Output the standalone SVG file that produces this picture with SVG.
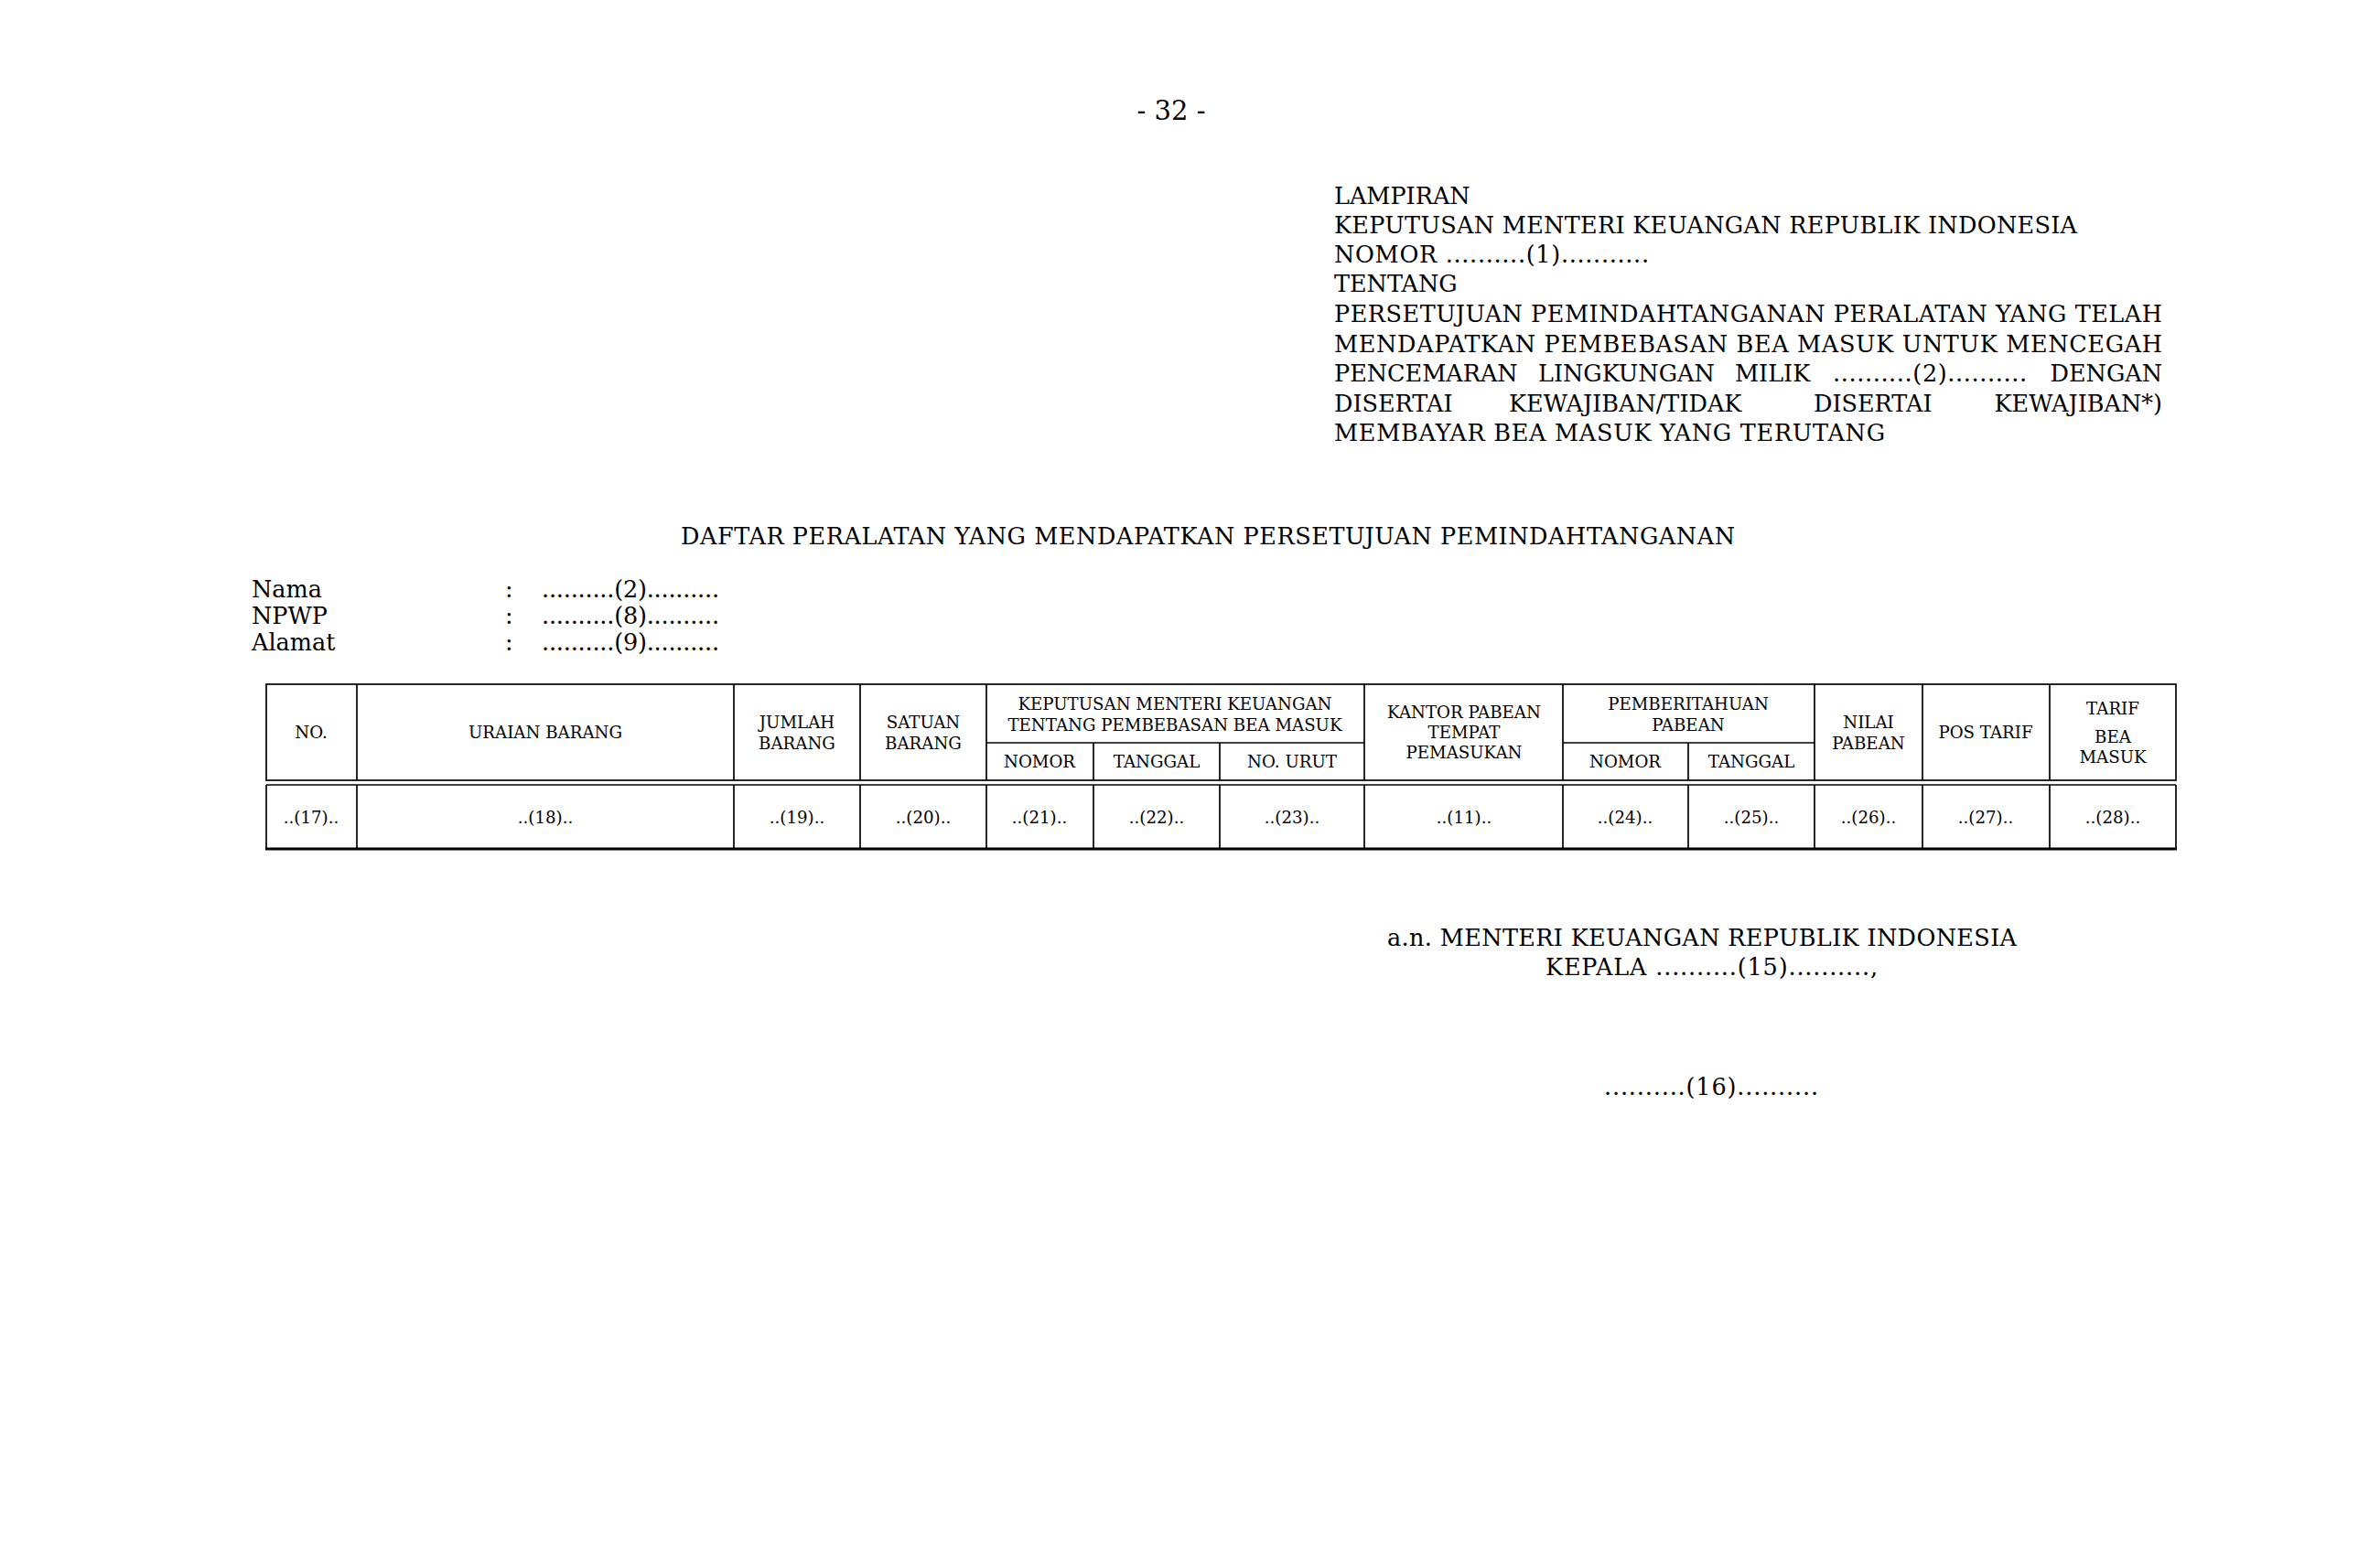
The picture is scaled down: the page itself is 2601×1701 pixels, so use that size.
<svg xmlns="http://www.w3.org/2000/svg" width="2601" height="1701" viewBox="0 0 2601 1701">
<style>
text{font-family:"DejaVu Serif","Liberation Serif",serif;fill:#000}
.b{font-size:25.5px}
.p{font-size:29px}
.t{font-size:18.2px}
.c{text-anchor:middle}
.e{text-anchor:end}
.ln{stroke:#000;stroke-width:1.7;fill:none}
.thick{stroke:#000;stroke-width:3;fill:none}
</style>
<rect x="0" y="0" width="2601" height="1701" fill="#fff"/>
<g id="page-number">
<text class="p c" x="1280" y="131">- 32 -</text>
</g>
<g id="lampiran">
<text class="b" x="1458" y="223">LAMPIRAN</text>
<text class="b" x="1458" y="255" textLength="812">KEPUTUSAN MENTERI KEUANGAN REPUBLIK INDONESIA</text>
<text class="b" x="1458" y="287" textLength="344">NOMOR ..........(1)...........</text>
<text class="b" x="1458" y="319">TENTANG</text>
<text class="b" x="1458" y="352" textLength="905">PERSETUJUAN PEMINDAHTANGANAN PERALATAN YANG TELAH</text>
<text class="b" x="1458" y="385" textLength="905">MENDAPATKAN PEMBEBASAN BEA MASUK UNTUK MENCEGAH</text>
<text class="b" x="1458" y="417">PENCEMARAN</text>
<text class="b" x="1681" y="417">LINGKUNGAN</text>
<text class="b" x="1896" y="417">MILIK</text>
<text class="b" x="2003" y="417" textLength="212">..........(2)..........</text>
<text class="b e" x="2363" y="417">DENGAN</text>
<text class="b" x="1458" y="450">DISERTAI</text>
<text class="b" x="1649" y="450">KEWAJIBAN/TIDAK</text>
<text class="b" x="1982" y="450">DISERTAI</text>
<text class="b e" x="2363" y="450">KEWAJIBAN*)</text>
<text class="b" x="1458" y="482" textLength="602">MEMBAYAR BEA MASUK YANG TERUTANG</text>
</g>
<g id="title">
<text class="b" x="744" y="595" textLength="1152">DAFTAR PERALATAN YANG MENDAPATKAN PERSETUJUAN PEMINDAHTANGANAN</text>
</g>
<g id="identity">
<text class="b" x="275" y="653">Nama</text>
<text class="b" x="275" y="682">NPWP</text>
<text class="b" x="275" y="711">Alamat</text>
<text class="b" x="552" y="653">:</text>
<text class="b" x="552" y="682">:</text>
<text class="b" x="552" y="711">:</text>
<text class="b" x="592" y="653" textLength="194">..........(2)..........</text>
<text class="b" x="592" y="682" textLength="194">..........(8)..........</text>
<text class="b" x="592" y="711" textLength="194">..........(9)..........</text>
</g>
<g id="table">
<g id="table-lines">
<rect class="ln" x="291" y="748" width="2087" height="105"/>
<line class="ln" x1="1078" y1="812" x2="1491" y2="812"/>
<line class="ln" x1="1708" y1="812" x2="1983" y2="812"/>
<line class="ln" x1="390" y1="748" x2="390" y2="853"/>
<line class="ln" x1="802" y1="748" x2="802" y2="853"/>
<line class="ln" x1="940" y1="748" x2="940" y2="853"/>
<line class="ln" x1="1078" y1="748" x2="1078" y2="853"/>
<line class="ln" x1="1195" y1="812" x2="1195" y2="853"/>
<line class="ln" x1="1333" y1="812" x2="1333" y2="853"/>
<line class="ln" x1="1491" y1="748" x2="1491" y2="853"/>
<line class="ln" x1="1708" y1="748" x2="1708" y2="853"/>
<line class="ln" x1="1845" y1="812" x2="1845" y2="853"/>
<line class="ln" x1="1983" y1="748" x2="1983" y2="853"/>
<line class="ln" x1="2101" y1="748" x2="2101" y2="853"/>
<line class="ln" x1="2240" y1="748" x2="2240" y2="853"/>
<line class="ln" x1="291" y1="858" x2="2378" y2="858"/>
<line class="ln" x1="291" y1="858" x2="291" y2="928"/>
<line class="ln" x1="2378" y1="858" x2="2378" y2="928"/>
<line class="ln" x1="390" y1="858" x2="390" y2="928"/>
<line class="ln" x1="802" y1="858" x2="802" y2="928"/>
<line class="ln" x1="940" y1="858" x2="940" y2="928"/>
<line class="ln" x1="1078" y1="858" x2="1078" y2="928"/>
<line class="ln" x1="1195" y1="858" x2="1195" y2="928"/>
<line class="ln" x1="1333" y1="858" x2="1333" y2="928"/>
<line class="ln" x1="1491" y1="858" x2="1491" y2="928"/>
<line class="ln" x1="1708" y1="858" x2="1708" y2="928"/>
<line class="ln" x1="1845" y1="858" x2="1845" y2="928"/>
<line class="ln" x1="1983" y1="858" x2="1983" y2="928"/>
<line class="ln" x1="2101" y1="858" x2="2101" y2="928"/>
<line class="ln" x1="2240" y1="858" x2="2240" y2="928"/>
<line class="thick" x1="290" y1="928" x2="2379" y2="928"/>
</g>
<g id="table-header">
<text class="t c" x="340" y="807">NO.</text>
<text class="t c" x="596" y="807">URAIAN BARANG</text>
<text class="t c" x="871" y="796">JUMLAH</text>
<text class="t c" x="871" y="819">BARANG</text>
<text class="t c" x="1009" y="796">SATUAN</text>
<text class="t c" x="1009" y="819">BARANG</text>
<text class="t c" x="1284" y="776">KEPUTUSAN MENTERI KEUANGAN</text>
<text class="t c" x="1284" y="799">TENTANG PEMBEBASAN BEA MASUK</text>
<text class="t c" x="1136" y="839">NOMOR</text>
<text class="t c" x="1264" y="839">TANGGAL</text>
<text class="t c" x="1412" y="839">NO. URUT</text>
<text class="t c" x="1600" y="785">KANTOR PABEAN</text>
<text class="t c" x="1600" y="807">TEMPAT</text>
<text class="t c" x="1600" y="829">PEMASUKAN</text>
<text class="t c" x="1845" y="776">PEMBERITAHUAN</text>
<text class="t c" x="1845" y="799">PABEAN</text>
<text class="t c" x="1776" y="839">NOMOR</text>
<text class="t c" x="1914" y="839">TANGGAL</text>
<text class="t c" x="2042" y="796">NILAI</text>
<text class="t c" x="2042" y="819">PABEAN</text>
<text class="t c" x="2170" y="807">POS TARIF</text>
<text class="t c" x="2309" y="781">TARIF</text>
<text class="t c" x="2309" y="812">BEA</text>
<text class="t c" x="2309" y="834">MASUK</text>
</g>
<g id="table-row">
<text class="t c" x="340" y="900">..(17)..</text>
<text class="t c" x="596" y="900">..(18)..</text>
<text class="t c" x="871" y="900">..(19)..</text>
<text class="t c" x="1009" y="900">..(20)..</text>
<text class="t c" x="1136" y="900">..(21)..</text>
<text class="t c" x="1264" y="900">..(22)..</text>
<text class="t c" x="1412" y="900">..(23)..</text>
<text class="t c" x="1600" y="900">..(11)..</text>
<text class="t c" x="1776" y="900">..(24)..</text>
<text class="t c" x="1914" y="900">..(25)..</text>
<text class="t c" x="2042" y="900">..(26)..</text>
<text class="t c" x="2170" y="900">..(27)..</text>
<text class="t c" x="2309" y="900">..(28)..</text>
</g>
</g>
<g id="signature">
<text class="b" x="1516" y="1034" textLength="688">a.n. MENTERI KEUANGAN REPUBLIK INDONESIA</text>
<text class="b" x="1689" y="1066" textLength="363">KEPALA ..........(15)..........,</text>
<text class="b" x="1753" y="1197" textLength="234">..........(16)..........</text>
</g>
</svg>
